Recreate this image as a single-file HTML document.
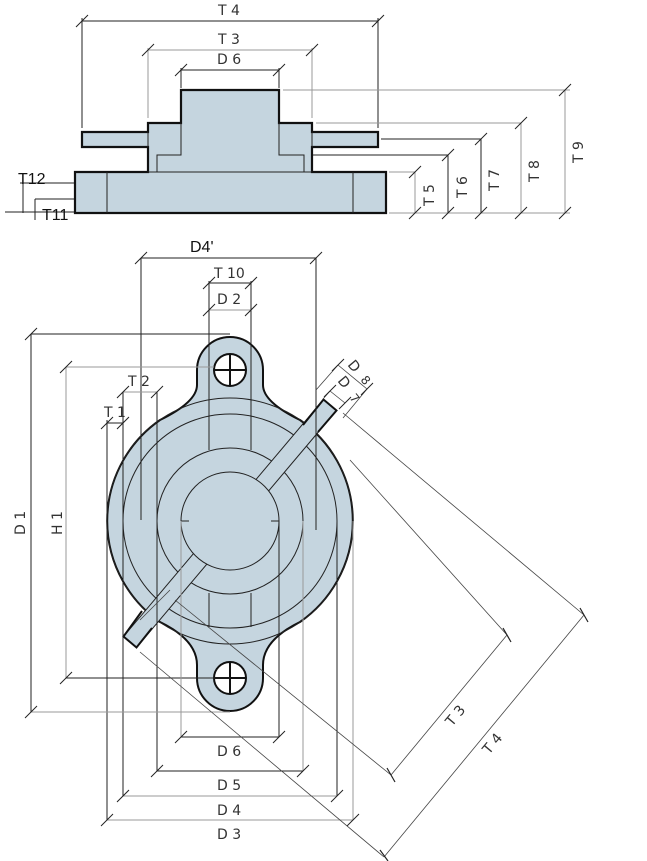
<!DOCTYPE html>
<html><head><meta charset="utf-8"><style>
html,body{margin:0;padding:0;background:#fff}
svg{display:block}
text{font-family:"DejaVu Sans","Liberation Sans",sans-serif;font-size:14px;fill:#333}
</style></head><body>
<svg width="647" height="861" viewBox="0 0 647 861" xmlns="http://www.w3.org/2000/svg">
<defs><path id="tk" d="M-6,6 L6,-6" stroke="#222" stroke-width="1"/></defs>
<g fill="none" stroke-width="1">
<!-- TOP VIEW dims -->
<g stroke="#222">
<line x1="82" y1="21" x2="378" y2="21"/><line x1="82" y1="18" x2="82" y2="128"/><line x1="378" y1="18" x2="378" y2="128"/>
<line x1="181" y1="70" x2="279" y2="70"/><line x1="181" y1="68" x2="181" y2="88"/><line x1="279" y1="68" x2="279" y2="88"/>
<line x1="381" y1="139" x2="481" y2="139"/><line x1="307" y1="155" x2="448" y2="155"/>
<line x1="448" y1="155" x2="448" y2="213"/><line x1="481" y1="139" x2="481" y2="213"/>
<line x1="20" y1="183" x2="75" y2="183"/><line x1="35" y1="199" x2="75" y2="199"/>
<line x1="23" y1="183" x2="23" y2="213"/><line x1="35" y1="199" x2="35" y2="220"/>
<line x1="5" y1="212" x2="75" y2="212"/>
</g>
<g stroke="#999">
<line x1="148" y1="50" x2="312" y2="50"/><line x1="148" y1="48" x2="148" y2="118"/><line x1="312" y1="48" x2="312" y2="118"/>
<line x1="283" y1="90" x2="570" y2="90"/><line x1="316" y1="123" x2="521" y2="123"/>
<line x1="389" y1="172" x2="415" y2="172"/><line x1="389" y1="213" x2="570" y2="213"/>
<line x1="415" y1="172" x2="415" y2="213"/><line x1="521" y1="123" x2="521" y2="213"/><line x1="565" y1="90" x2="565" y2="213"/>
</g>
</g>
<g>
<use href="#tk" x="82" y="21"/><use href="#tk" x="378" y="21"/><use href="#tk" x="148" y="50"/><use href="#tk" x="312" y="50"/>
<use href="#tk" x="181" y="70"/><use href="#tk" x="279" y="70"/>
<use href="#tk" x="565" y="90"/><use href="#tk" x="521" y="123"/><use href="#tk" x="481" y="139"/><use href="#tk" x="448" y="155"/><use href="#tk" x="415" y="172"/>
<use href="#tk" x="415" y="213"/><use href="#tk" x="448" y="213"/><use href="#tk" x="481" y="213"/><use href="#tk" x="521" y="213"/><use href="#tk" x="565" y="213"/>
</g>
<!-- top view body -->
<path d="M75,172 H148 V147 H82 V132 H148 V123 H181 V90 H279 V123 H312 V132 H378 V147 H312 V172 H386 V213 H75 Z" fill="#c5d5df" stroke="#111" stroke-width="2.2"/>
<g stroke="#222" stroke-width="1" fill="none">
<line x1="148" y1="172" x2="312" y2="172"/><line x1="148" y1="132" x2="148" y2="147"/><line x1="312" y1="132" x2="312" y2="147"/>
<polyline points="157,172 157,155 181,155 181,123"/><polyline points="279,123 279,155 304,155 304,172"/>
<line x1="107" y1="172" x2="107" y2="213"/><line x1="353" y1="172" x2="353" y2="213"/>
</g>
<text x="218" y="15">T 4</text><text x="218" y="44">T 3</text><text x="217" y="64">D 6</text>
<text x="18" y="184" style="font-family:'Liberation Sans',sans-serif;font-size:16px;fill:#111">T12</text>
<text x="42" y="220" style="font-family:'Liberation Sans',sans-serif;font-size:16px;fill:#111">T11</text>
<text transform="translate(434,206) rotate(-90)">T 5</text>
<text transform="translate(467,198) rotate(-90)">T 6</text>
<text transform="translate(499,191) rotate(-90)">T 7</text>
<text transform="translate(539,182) rotate(-90)">T 8</text>
<text transform="translate(583,163) rotate(-90)">T 9</text>

<!-- FRONT VIEW body -->
<path d="M197,370 A33,33 0 0 1 263,370 V385 Q263,402 300,420 A123,123 0 0 1 300,622 Q263,640 263,665 V678 A33,33 0 0 1 197,678 V665 Q197,640 160,622 A123,123 0 0 1 160,420 Q197,402 197,385 Z" fill="#c5d5df" stroke="#111" stroke-width="2"/>
<g fill="none" stroke="#222" stroke-width="1">
<circle cx="230" cy="521" r="123"/>
<circle cx="230" cy="521" r="107"/>
<circle cx="230" cy="521" r="73"/>
<line x1="209" y1="415" x2="209" y2="450"/><line x1="251" y1="415" x2="251" y2="450"/>
<line x1="209" y1="593" x2="209" y2="627"/><line x1="251" y1="593" x2="251" y2="627"/>
</g>
<!-- bar -->
<polygon points="123.5,636.5 136.5,647.5 336.5,410.5 323.5,399.5" fill="#c5d5df" stroke="#222" stroke-width="1"/>
<g stroke="#111" stroke-width="2" fill="none">
<polyline points="142,611 123.5,636.5 136.5,647.5 152,628"/>
<polyline points="303,425 323.5,399.5 336.5,410.5 318,432"/>
</g>
<circle cx="230" cy="521" r="49" fill="#c5d5df" stroke="#222" stroke-width="1"/>
<g stroke="#222" stroke-width="1">
<line x1="181" y1="521" x2="189" y2="521"/><line x1="271" y1="521" x2="279" y2="521"/>
</g>
<!-- holes -->
<g stroke="#111" stroke-width="2">
<circle cx="230" cy="370" r="16" fill="#fff"/><line x1="214" y1="370" x2="246" y2="370"/><line x1="230" y1="354" x2="230" y2="386"/>
<circle cx="230" cy="678" r="16" fill="#fff"/><line x1="214" y1="678" x2="246" y2="678"/><line x1="230" y1="662" x2="230" y2="694"/>
</g>
<!-- front dims -->
<g fill="none" stroke-width="1">
<g stroke="#222">
<line x1="141" y1="258" x2="316" y2="258"/><line x1="141" y1="258" x2="141" y2="520"/><line x1="316" y1="258" x2="316" y2="530"/>
<line x1="209" y1="283" x2="251" y2="283"/><line x1="209" y1="281" x2="209" y2="415"/><line x1="251" y1="281" x2="251" y2="415"/>
<line x1="31" y1="334" x2="230" y2="334"/><line x1="31" y1="334" x2="31" y2="712"/>
<line x1="66" y1="678" x2="230" y2="678"/>
<line x1="107" y1="423" x2="123" y2="423"/><line x1="107" y1="420" x2="107" y2="820"/><line x1="123" y1="392" x2="123" y2="796"/>
<line x1="157" y1="392" x2="157" y2="771"/><line x1="279" y1="521" x2="279" y2="737"/><line x1="337" y1="521" x2="337" y2="796"/>
<line x1="181" y1="737" x2="279" y2="737"/><line x1="157" y1="771" x2="303" y2="771"/>
</g>
<g stroke="#999">
<line x1="209" y1="310" x2="251" y2="310"/>
<line x1="66" y1="367" x2="214" y2="367"/><line x1="66" y1="367" x2="66" y2="678"/>
<line x1="31" y1="712" x2="230" y2="712"/>
<line x1="123" y1="392" x2="157" y2="392"/>
<line x1="181" y1="521" x2="181" y2="737"/><line x1="303" y1="521" x2="303" y2="771"/><line x1="353" y1="521" x2="353" y2="820"/>
<line x1="123" y1="796" x2="337" y2="796"/><line x1="107" y1="820" x2="353" y2="820"/>
</g>
<g stroke="#444" stroke-width="0.8">
<line x1="343" y1="413" x2="584" y2="615"/><line x1="584" y1="615" x2="384" y2="857"/>
<line x1="350" y1="460" x2="507" y2="635"/><line x1="507" y1="635" x2="391" y2="775"/>
<line x1="140" y1="652" x2="384" y2="857"/>
<line x1="175" y1="600" x2="391" y2="775"/>
<line x1="316" y1="390" x2="338" y2="365"/><line x1="338" y1="365" x2="367" y2="389"/><line x1="367" y1="389" x2="343" y2="418"/>
<line x1="323" y1="399" x2="330" y2="391"/><line x1="330" y1="391" x2="345" y2="403"/>
<line x1="140" y1="620" x2="170" y2="590"/>
</g>
</g>
<g>
<use href="#tk" x="141" y="258"/><use href="#tk" x="316" y="258"/><use href="#tk" x="209" y="283"/><use href="#tk" x="251" y="283"/>
<use href="#tk" x="209" y="310"/><use href="#tk" x="251" y="310"/>
<use href="#tk" x="31" y="334"/><use href="#tk" x="31" y="712"/><use href="#tk" x="66" y="367"/><use href="#tk" x="66" y="678"/>
<use href="#tk" x="107" y="423"/><use href="#tk" x="123" y="423"/><use href="#tk" x="123" y="392"/><use href="#tk" x="157" y="392"/>
<use href="#tk" x="181" y="737"/><use href="#tk" x="279" y="737"/><use href="#tk" x="157" y="771"/><use href="#tk" x="303" y="771"/>
<use href="#tk" x="123" y="796"/><use href="#tk" x="337" y="796"/><use href="#tk" x="107" y="820"/><use href="#tk" x="353" y="820"/>
<use href="#tk" x="338" y="365"/><use href="#tk" x="367" y="389"/><use href="#tk" x="330" y="391"/><use href="#tk" x="345" y="403"/>
</g>
<g stroke="#222" stroke-width="1.2">
<line x1="580" y1="608" x2="588" y2="622"/><line x1="503" y1="628" x2="511" y2="642"/><line x1="387" y1="768" x2="395" y2="782"/><line x1="380" y1="850" x2="388" y2="861"/>
</g>
<text x="190" y="252" style="font-family:'Liberation Sans',sans-serif;font-size:16px;fill:#111">D4'</text>
<text x="214" y="278">T 10</text><text x="217" y="304">D 2</text>
<text x="128" y="386">T 2</text><text x="104" y="417">T 1</text>
<text transform="translate(25,535) rotate(-90)">D 1</text>
<text transform="translate(62,535) rotate(-90)">H 1</text>
<text x="217" y="756">D 6</text><text x="217" y="790">D 5</text><text x="217" y="815">D 4</text><text x="217" y="839">D 3</text>
<text transform="translate(452,727) rotate(-50)">T 3</text>
<text transform="translate(489,755) rotate(-50)">T 4</text>
<text transform="translate(347,365) rotate(50)">D</text>
<text transform="translate(360,380) rotate(50)" style="font-size:12px">8</text>
<text transform="translate(337,381) rotate(50)">D</text>
<text transform="translate(349,398) rotate(50)" style="font-size:12px">7</text>
</svg>
</body></html>
